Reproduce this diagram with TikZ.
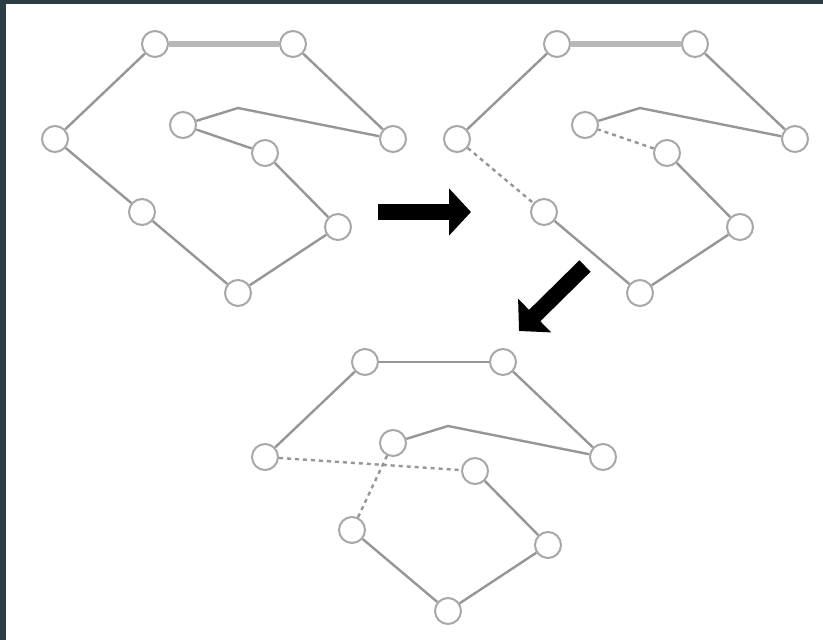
\documentclass[tikz,border=0pt]{standalone}
\usetikzlibrary{arrows.meta}
\definecolor{frameDark}{HTML}{2B3D45}
\definecolor{edgeGray}{HTML}{969696}
\definecolor{ringGray}{HTML}{A8A8A8}
\definecolor{topGray}{HTML}{B8B8B8}
\tikzset{
  vert/.style={draw=ringGray, circle, line width=2pt, minimum size=26pt, inner sep=0pt, fill=white},
  link/.style={draw=edgeGray, line width=2.4pt},
  cut/.style={link, dash pattern=on 4pt off 4pt},
  toplink/.style={draw=topGray, line width=6pt},
  bigarrow/.style={line width=16pt, -{Triangle[length=22pt, width=46pt]}}
}

\begin{document}
\begin{tikzpicture}[x=1pt, y=-1pt]
    \fill[frameDark] (0,0) rectangle (823,640);
    \fill[white] (6,4) rectangle (823,640);
    \useasboundingbox (0,0) rectangle (823,640);

    % the same tour, three times
    \foreach \t/\dx/\dy in {1/0/0, 2/402/0, 3/210/318}{
      \begin{scope}[shift={(\dx,\dy)}]
        \node[vert] (a\t) at (155,44) {};
        \node[vert] (b\t) at (293,44) {};
        \node[vert] (c\t) at (55,139) {};
        \node[vert] (d\t) at (183,125) {};
        \node[vert] (e\t) at (393,139) {};
        \node[vert] (f\t) at (265,153) {};
        \node[vert] (g\t) at (142,212) {};
        \node[vert] (h\t) at (338,227) {};
        \node[vert] (i\t) at (238,293) {};
        \coordinate (k\t) at (238,108);
      \end{scope}
    }

    % before
    \draw[toplink] (a1) -- (b1);
    \draw[link] (a1) -- (c1);
    \draw[link] (b1) -- (e1);
    \draw[link] (c1) -- (g1);
    \draw[link] (g1) -- (i1);
    \draw[link] (i1) -- (h1);
    \draw[link] (h1) -- (f1);
    \draw[link] (f1) -- (d1);
    \draw[link] (d1) -- (k1) -- (e1);

    % two edges removed
    \draw[toplink] (a2) -- (b2);
    \draw[link] (a2) -- (c2);
    \draw[link] (b2) -- (e2);
    \draw[cut] (c2) -- (g2);
    \draw[link] (g2) -- (i2);
    \draw[link] (i2) -- (h2);
    \draw[link] (h2) -- (f2);
    \draw[cut] (f2) -- (d2);
    \draw[link] (d2) -- (k2) -- (e2);

    % reconnected
    \draw[link] (a3) -- (b3);
    \draw[link] (a3) -- (c3);
    \draw[link] (b3) -- (e3);
    \draw[link] (d3) -- (k3) -- (e3);
    \draw[cut] (c3) -- (f3);
    \draw[cut] (d3) -- (g3);
    \draw[link] (g3) -- (i3);
    \draw[link] (i3) -- (h3);
    \draw[link] (h3) -- (f3);

    \coordinate (s1) at (378,212);
    \coordinate (t1) at (471,212);
    \coordinate (s2) at (585,266);
    \coordinate (t2) at (519,331);
    \draw[bigarrow] (s1) -- (t1);
    \draw[bigarrow] (s2) -- (t2);
\end{tikzpicture}
\end{document}
